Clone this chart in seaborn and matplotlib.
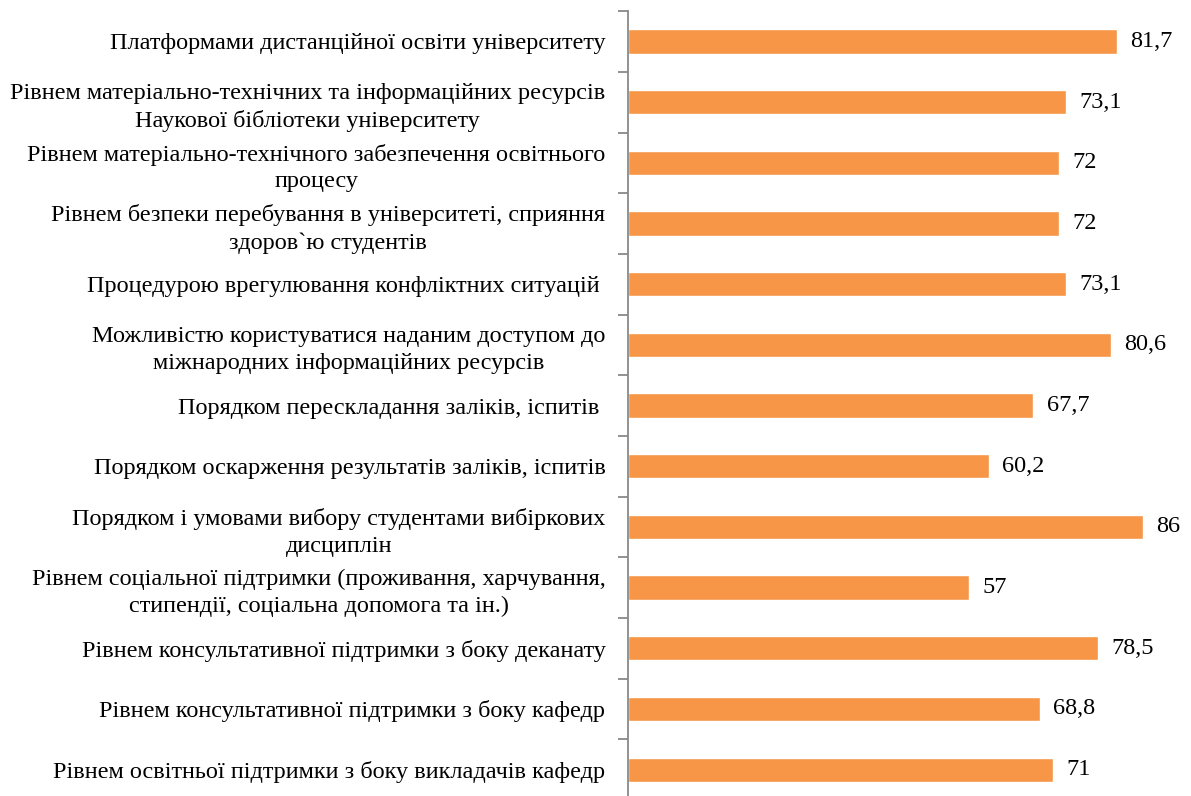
import matplotlib.pyplot as plt
import seaborn as sns
import pandas as pd
import numpy as np

# дані з діаграми (зверху вниз)
categories = [
    "Платформами дистанційної освіти університету",
    "Рівнем матеріально-технічних та інформаційних ресурсів\nНаукової бібліотеки університету",
    "Рівнем матеріально-технічного забезпечення освітнього\nпроцесу",
    "Рівнем безпеки перебування в університеті, сприяння\nздоров`ю студентів",
    "Процедурою врегулювання конфліктних ситуацій ",
    "Можливістю користуватися наданим доступом до\nміжнародних інформаційних ресурсів",
    "Порядком перескладання заліків, іспитів ",
    "Порядком оскарження результатів заліків, іспитів",
    "Порядком і умовами вибору студентами вибіркових\nдисциплін",
    "Рівнем соціальної підтримки (проживання, харчування,\nстипендії, соціальна допомога та ін.)",
    "Рівнем консультативної підтримки з боку деканату",
    "Рівнем консультативної підтримки з боку кафедр",
    "Рівнем освітньої підтримки з боку викладачів кафедр",
]
values = [81.7, 73.1, 72, 72, 73.1, 80.6, 67.7, 60.2, 86, 57, 78.5, 68.8, 71]

df = pd.DataFrame({"cat": categories, "val": values})

sns.set_style("white")
plt.rcParams['font.family'] = ['Liberation Serif', 'DejaVu Serif']
plt.rcParams['text.color'] = 'black'
plt.rcParams['ytick.labelcolor'] = 'black'

fig = plt.figure(figsize=(11.91, 7.96), dpi=100)
ax = fig.add_axes([0.527, -0.005, 0.453, 0.991])

sns.barplot(data=df, x="val", y="cat", color="#F79646", width=0.4,
            saturation=1, ax=ax)

ax.set_xlim(0, 90)
ax.set_ylim(len(categories) - 0.5, -0.5)
ax.set_xlabel("")
ax.set_ylabel("")
ax.set_xticks([])

for s in ["top", "right", "bottom"]:
    ax.spines[s].set_visible(False)
ax.spines["left"].set_color("#898989")
ax.spines["left"].set_linewidth(1.3)

# підписи категорій без рисок, риски на межах категорій
ax.tick_params(axis="y", which="major", left=True, length=0, pad=16,
               labelsize=17.5, labelcolor="black")
ax.set_yticks(np.arange(-0.5, len(categories)), minor=True)
ax.tick_params(axis="y", which="minor", left=True, length=7, width=1.3,
               color="#898989")
for lbl in ax.get_yticklabels():
    lbl.set_multialignment("center")
    lbl.set_linespacing(1.35)

# значення біля стовпчиків
for i, v in enumerate(values):
    txt = f"{v:g}".replace(".", ",")
    ax.text(v + 2.2, i, txt, va="center", ha="left", fontsize=17.5,
            color="black")

fig.savefig("out.png", dpi=100)
